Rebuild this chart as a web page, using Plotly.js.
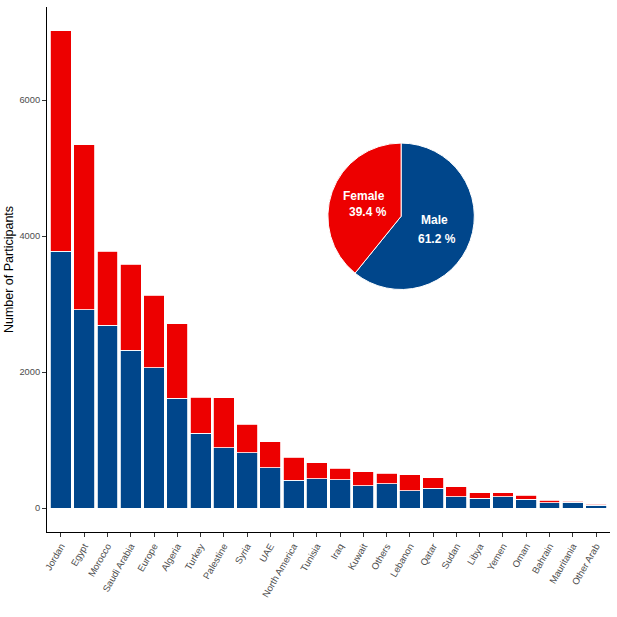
<!DOCTYPE html>
<html>
<head>
<meta charset="utf-8">
<script src="https://cdn.plot.ly/plotly-3.0.1.min.js"></script>
<style>html,body{margin:0;padding:0;background:#fff;}#chart{width:617px;height:617px;}</style>
</head>
<body>
<div id="chart"></div>
<script>
const countries = ["Jordan","Egypt","Morocco","Saudi Arabia","Europe","Algeria","Turkey","Palestine","Syria","UAE","North America","Tunisia","Iraq","Kuwait","Others","Lebanon","Qatar","Sudan","Libya","Yemen","Oman","Bahrain","Mauritania","Other Arab"];
const maleCounts = [3775,2919,2689,2323,2068,1618,1105,890,817,597,411,430,415,333,357,254,289,171,142,171,132,78,83,44];
const femaleCounts = [3245,2425,1091,1267,1067,1091,528,734,415,381,337,238,172,200,156,240,156,142,88,59,54,39,20,15];
const genderLabels = ["Male","Female"];
const genderPercent = [61.2,39.4];
const yTicks = [0,2000,4000,6000];

const BLUE = "#00468B", RED = "#ED0000";
const FONT = "Liberation Sans, Arial, sans-serif";

const traces = [
  {type:"bar", name:"Male", x:countries, y:maleCounts, marker:{color:BLUE, line:{color:"#ffffff", width:0.8}}, showlegend:false, hoverinfo:"x+y"},
  {type:"bar", name:"Female", x:countries, y:femaleCounts, marker:{color:RED, line:{color:"#ffffff", width:0.8}}, showlegend:false, hoverinfo:"x+y"},
  {type:"pie", labels:genderLabels, values:genderPercent, sort:false, direction:"clockwise", rotation:0,
   marker:{colors:[BLUE,RED], line:{color:"#ffffff", width:1}}, textinfo:"none", showlegend:false,
   domain:{x:[0.4979,0.7600], y:[0.4619,0.7408]}}
];

// plot-area pixel -> paper helpers (layout positioning only)
const PL = 47.4, PW = 562.2, PB = 532, PH = 525.5;
const px = v => (v - PL) / PW;
const py = v => (PB - v) / PH;
function lbl(x, y, t) {
  return {xref:"paper", yref:"paper", x:px(x), y:py(y), xanchor:"center", yanchor:"middle",
    text:"<b>"+t+"</b>", showarrow:false, font:{family:FONT, size:12, color:"#ffffff"}};
}
const annotations = [
  lbl(434.5, 220, genderLabels[0]),
  lbl(437.2, 238.3, genderPercent[0].toFixed(1)+" %"),
  lbl(364.2, 195.7, genderLabels[1]),
  lbl(367.8, 212, genderPercent[1].toFixed(1)+" %")
];

const layout = {
  width:617, height:617,
  margin:{l:47.4, r:7.4, t:6.5, b:85},
  paper_bgcolor:"#ffffff", plot_bgcolor:"#ffffff",
  barmode:"stack", bargap:0.1,
  font:{family:FONT, color:"#4D4D4D"},
  xaxis:{type:"category", range:[-0.6,23.6], showline:true, linecolor:"#000000", linewidth:1,
    ticks:"outside", ticklen:4, tickcolor:"#333333", tickangle:-60, tickfont:{family:FONT, size:9.5, color:"#4D4D4D"},
    showgrid:false, zeroline:false, fixedrange:true},
  yaxis:{range:[-351,7371], tickvals:yTicks, ticktext:yTicks.map(String), showline:true, linecolor:"#000000", linewidth:1,
    ticks:"outside", ticklen:4, tickcolor:"#333333", tickfont:{family:FONT, size:9.3, color:"#4D4D4D"},
    showgrid:false, zeroline:false,
    title:{text:"Number of Participants", font:{family:FONT, size:12.5, color:"#000000"}, standoff:3}},
  annotations:annotations
};

Plotly.newPlot("chart", traces, layout, {displayModeBar:false, staticPlot:true});
</script>
</body>
</html>
